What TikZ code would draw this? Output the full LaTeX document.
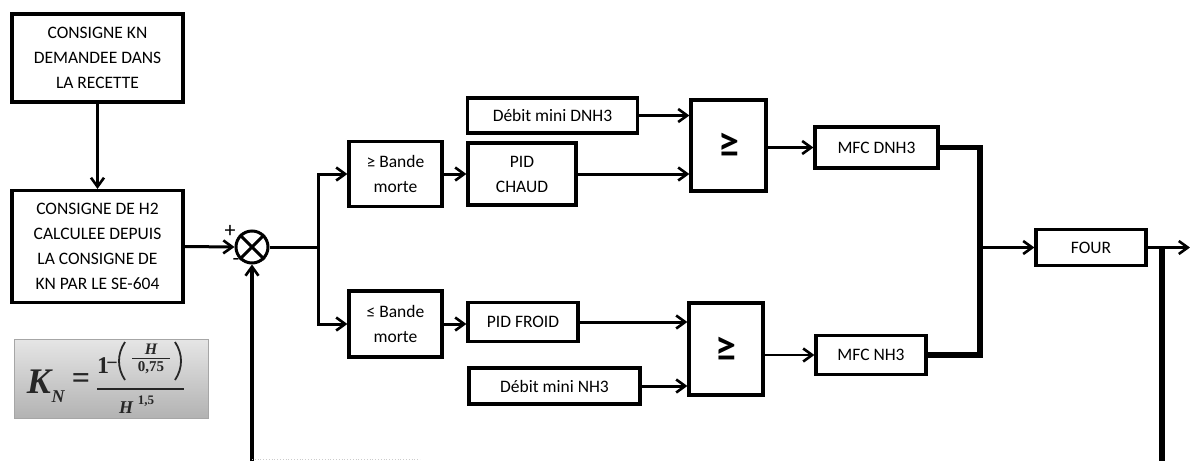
\documentclass[tikz,border=0pt]{standalone}
\usepackage{fontspec}
\setmainfont{Carlito}
\newfontfamily\fserif{Liberation Serif}
\usetikzlibrary{arrows.meta,shapes.geometric}
\begin{document}
\begin{tikzpicture}[x=1pt,y=-1pt,
  blk/.style={draw,line width=3.2pt,rectangle,inner sep=0pt,align=center,font=\fontsize{17.5}{25}\selectfont},
  conn/.style={line width=3pt},
  arr/.style={conn,-{Straight Barb[length=9pt,width=13pt,line width=2.6pt]}},
  thickline/.style={line width=5.5pt},
  geqsym/.style={font=\fontsize{42}{42}\selectfont\bfseries},
  sgn/.style={font=\fontsize{22}{22}\selectfont,inner sep=0pt},
  fm/.style={inner sep=0pt,text=black!85},
  fbi/.style={fm,font=\fserif\bfseries\itshape\fontsize{#1}{#1}\selectfont},
  fbr/.style={fm,font=\fserif\bfseries\fontsize{#1}{#1}\selectfont}
]
\useasboundingbox (0,0) rectangle (1190,461);

% left column
\node[blk,minimum width=171pt,minimum height=88pt] (b1) at (97.5,58) {CONSIGNE KN\\DEMANDEE DANS\\LA RECETTE};
\node[blk,minimum width=171pt,minimum height=112pt] (b2) at (97.5,246.5) {CONSIGNE DE H2\\CALCULEE DEPUIS\\LA CONSIGNE DE\\KN PAR LE SE-604};

% formula box
\shade[top color=gray!20,bottom color=gray!60,draw=gray!70,line width=1pt] (14,339) rectangle (208,418);
\node[fbi=36] (fK) at (39,382) {K};
\node[fbi=18] (fN) at (58,397) {N};
\node[fbr=32] (feq) at (81,381) {=};
\draw[black!85,line width=1.6pt] (97,389) -- (184,389);
\node[fbr=24] (f1) at (103,366) {1};
\node[fbr=20] (fmin) at (112,366) {−};
\draw[black!85,line width=1.8pt] (125,342) .. controls (117,354) and (117,368) .. (125,380);
\draw[black!85,line width=1.8pt] (175,342) .. controls (183,354) and (183,368) .. (175,380);
\node[fbi=16] (fH1) at (151,349) {H};
\draw[black!85,line width=1pt] (132,358) -- (170,358);
\node[fbr=15] (f075) at (151,368) {0,75};
\node[fbi=18] (fH2) at (126,408) {H};
\node[fbr=13] (f15) at (146,401) {1,5};

% summer
\node[draw,circle,line width=3pt,minimum size=32pt,inner sep=0pt] (sum) at (252,247) {};
\draw[line width=3pt] (sum.north west) -- (sum.south east) (sum.north east) -- (sum.south west);
\node[sgn] (plus) at (230,231) {+};
\node[sgn] (minus) at (236,262) {-};

% upper branch
\node[blk,minimum width=93pt,minimum height=65pt] (bm1) at (395.5,174) {≥ Bande\\morte};
\node[blk,minimum width=108pt,minimum height=62pt] (pidc) at (522,174) {PID\\CHAUD};
\node[blk,minimum width=170pt,minimum height=35pt] (dn) at (552.5,115.5) {Débit mini DNH3};
\node[blk,minimum width=75pt,minimum height=91pt] (g1) at (728.5,145.5) {};
\node[geqsym] (g1s) at (g1.center) {≥};
\node[blk,minimum width=123pt,minimum height=41pt] (mfcd) at (876.5,147.5) {MFC DNH3};

% lower branch
\node[blk,minimum width=93pt,minimum height=66pt] (bm2) at (395.5,324) {≤ Bande\\morte};
\node[blk,minimum width=110pt,minimum height=39pt] (pidf) at (523,322) {PID FROID};
\node[blk,minimum width=171pt,minimum height=36pt] (nh) at (554.5,386) {Débit mini NH3};
\node[blk,minimum width=74pt,minimum height=92pt] (g2) at (726,349) {};
\node[geqsym] (g2s) at (g2.center) {≥};
\node[blk,minimum width=110pt,minimum height=39pt] (mfcn) at (871,355) {MFC NH3};

% output
\node[blk,minimum width=110pt,minimum height=36pt] (four) at (1091,247.5) {FOUR};

\coordinate (j1) at (318,247);
\coordinate (j2) at (980,247.5);
\coordinate (j3) at (1162,247.5);
\coordinate (out) at (1190,247.5);
\coordinate (fb1) at (1162,461);
\coordinate (fb2) at (252,461);
\coordinate (fb3) at (420,459.5);
\coordinate (fb4) at (252,459.5);

% connectors
\draw[arr] (b1.south) -- (b2.north);
\draw[arr] (b2.east) -- (sum.west);
\draw[conn] (sum.east) -- (j1);
\draw[arr] (j1) |- (bm1.west);
\draw[arr] (j1) |- (bm2.west);
\draw[arr] (bm1.east) -- (pidc.west);
\draw[arr] (dn.east) -- (dn.east -| g1.west);
\draw[arr] (pidc.east) -- (pidc.east -| g1.west);
\draw[arr,line width=2.4pt] (g1.east |- mfcd.west) -- (mfcd.west);
\draw[arr] (bm2.east) -- (bm2.east -| pidf.west);
\draw[arr] (pidf.east) -- (pidf.east -| g2.west);
\draw[arr] (nh.east) -- (nh.east -| g2.west);
\draw[arr,line width=2.4pt] (g2.east |- mfcn.west) -- (mfcn.west);
\draw[thickline] (mfcd.east) -| (j2) |- (mfcn.east);
\draw[arr] (j2) -- (four.west);
\draw[arr] (four.east) -- (out);
\draw[thickline] (j3) -- (fb1);
\draw[arr,line width=3.8pt] (fb2) -- (sum.south);
\draw[gray!40,line width=0.8pt,dotted] (fb4) -- (fb3);
\end{tikzpicture}
\end{document}
